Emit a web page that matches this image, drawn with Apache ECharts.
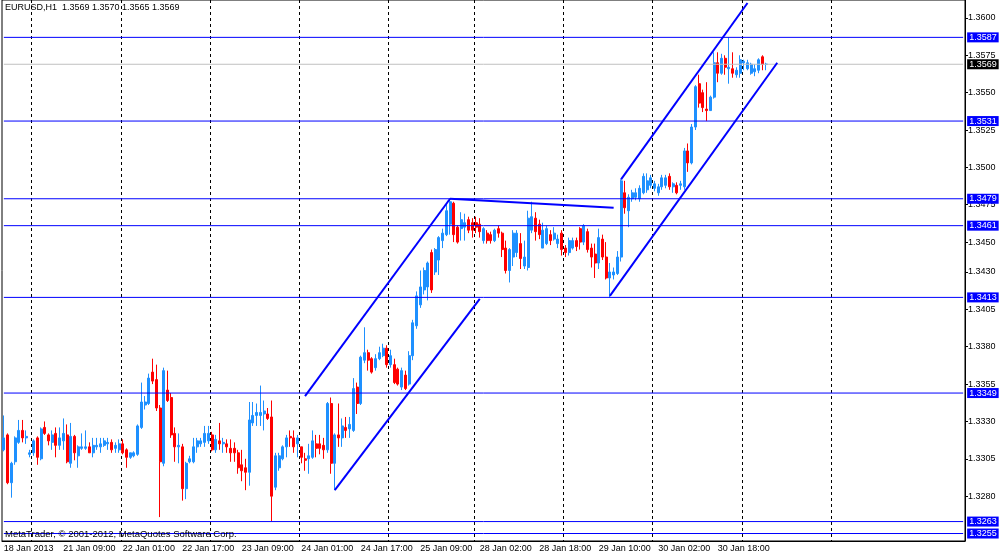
<!DOCTYPE html>
<html lang="en">
<head>
    <meta charset="UTF-8">
    <title>EURUSD,H1</title>
    <script src="https://cdn.jsdelivr.net/npm/echarts@6.0.0/dist/echarts.min.js"></script>
    <style>
        html, body { margin: 0; padding: 0; background: #fff; }
    </style>
</head>
<body>
    <div id="main" style="width: 1000px;height:557px;"></div>
    <script type="text/javascript">
    // hourly bars, [open, close, low, high]
    var ohlc = [
      [1.3311,1.3319,1.3310,1.3334],[1.3321,1.3289,1.3288,1.3322],[1.3289,1.3302,1.3279,1.3303],[1.3303,1.3319,1.3301,1.3320],
      [1.3316,1.3324,1.3315,1.3331],[1.3324,1.3319,1.3316,1.3331],[1.3319,1.3320,1.3315,1.3324],[1.3308,1.3309,1.3306,1.3311],
      [1.3309,1.3317,1.3307,1.3318],[1.3319,1.3306,1.3301,1.3320],[1.3305,1.3325,1.3304,1.3326],[1.3326,1.3322,1.3321,1.3330],
      [1.3321,1.3317,1.3314,1.3322],[1.3316,1.3321,1.3311,1.3324],[1.3322,1.3314,1.3306,1.3326],[1.3314,1.3319,1.3311,1.3326],
      [1.3317,1.3322,1.3311,1.3332],[1.3321,1.3303,1.3302,1.3328],[1.3302,1.3320,1.3299,1.3329],[1.3320,1.3309,1.3304,1.3321],
      [1.3307,1.3313,1.3299,1.3314],[1.3312,1.3313,1.3311,1.3322],[1.3312,1.3313,1.3311,1.3324],[1.3313,1.3309,1.3309,1.3316],
      [1.3309,1.3314,1.3306,1.3319],[1.3313,1.3314,1.3311,1.3319],[1.3313,1.3315,1.3309,1.3319],[1.3314,1.3317,1.3313,1.3319],
      [1.3315,1.3316,1.3311,1.3319],[1.3316,1.3311,1.3309,1.3318],[1.3312,1.3314,1.3309,1.3316],[1.3311,1.3315,1.3309,1.3318],
      [1.3315,1.3309,1.3308,1.3318],[1.3311,1.3306,1.3299,1.3312],[1.3306,1.3309,1.3305,1.3309],[1.3307,1.3309,1.3306,1.3310],
      [1.3308,1.3327,1.3307,1.3328],[1.3326,1.3343,1.3325,1.3356],[1.3341,1.3343,1.3338,1.3347],[1.3342,1.3359,1.3341,1.3362],
      [1.3363,1.3357,1.3355,1.3372],[1.3358,1.3339,1.3337,1.3368],[1.3339,1.3303,1.3266,1.3341],[1.3302,1.3364,1.3300,1.3366],
      [1.3351,1.3344,1.3343,1.3364],[1.3346,1.3321,1.3319,1.3349],[1.3322,1.3313,1.3303,1.3326],[1.3313,1.3314,1.3302,1.3322],
      [1.3313,1.3285,1.3277,1.3315],[1.3285,1.3302,1.3278,1.3303],[1.3303,1.3305,1.3302,1.3307],[1.3303,1.3313,1.3302,1.3319],
      [1.3313,1.3317,1.3309,1.3319],[1.3315,1.3317,1.3313,1.3319],[1.3316,1.3322,1.3313,1.3327],[1.3317,1.3322,1.3315,1.3327],
      [1.3321,1.3311,1.3310,1.3323],[1.3311,1.3318,1.3309,1.3321],[1.3317,1.3315,1.3311,1.3329],[1.3315,1.3316,1.3309,1.3319],
      [1.3315,1.3313,1.3309,1.3318],[1.3312,1.3309,1.3303,1.3318],[1.3312,1.3309,1.3303,1.3316],[1.3309,1.3299,1.3295,1.3311],
      [1.3301,1.3297,1.3290,1.3311],[1.3299,1.3296,1.3284,1.3305],[1.3296,1.3331,1.3287,1.3343],[1.3329,1.3334,1.3327,1.3343],
      [1.3334,1.3336,1.3327,1.3342],[1.3334,1.3336,1.3327,1.3354],[1.3335,1.3337,1.3324,1.3344],[1.3335,1.3332,1.3331,1.3339],
      [1.3333,1.3280,1.3263,1.3344],[1.3286,1.3307,1.3284,1.3309],[1.3299,1.3307,1.3297,1.3309],[1.3305,1.3313,1.3304,1.3314],
      [1.3313,1.3319,1.3306,1.3321],[1.3320,1.3319,1.3313,1.3324],[1.3319,1.3313,1.3309,1.3324],[1.3315,1.3319,1.3306,1.3321],
      [1.3313,1.3306,1.3302,1.3313],[1.3305,1.3304,1.3297,1.3309],[1.3305,1.3307,1.3295,1.3315],[1.3306,1.3317,1.3305,1.3324],
      [1.3315,1.3312,1.3306,1.3321],[1.3315,1.3312,1.3308,1.3321],[1.3314,1.3311,1.3305,1.3319],[1.3311,1.3342,1.3309,1.3343],
      [1.3342,1.3302,1.3295,1.3346],[1.3302,1.3321,1.3284,1.3322],[1.3321,1.3319,1.3313,1.3342],[1.3319,1.3327,1.3313,1.3332],
      [1.3326,1.3324,1.3319,1.3333],[1.3325,1.3328,1.3319,1.3333],[1.3324,1.3352,1.3323,1.3359],[1.3353,1.3342,1.3335,1.3356],
      [1.3342,1.3373,1.3341,1.3374],[1.3371,1.3376,1.3369,1.3393],[1.3376,1.3371,1.3364,1.3378],[1.3372,1.3363,1.3362,1.3373],
      [1.3366,1.3372,1.3364,1.3375],[1.3372,1.3376,1.3371,1.3380],[1.3374,1.3379,1.3373,1.3382],[1.3379,1.3368,1.3366,1.3381],
      [1.3368,1.3374,1.3366,1.3378],[1.3368,1.3356,1.3355,1.3372],[1.3365,1.3355,1.3354,1.3366],[1.3353,1.3364,1.3351,1.3366],
      [1.3361,1.3352,1.3351,1.3364],[1.3355,1.3374,1.3354,1.3377],[1.3374,1.3396,1.3371,1.3398],[1.3394,1.3414,1.3392,1.3417],
      [1.3408,1.3420,1.3406,1.3431],[1.3418,1.3431,1.3415,1.3433],[1.3420,1.3436,1.3411,1.3437],[1.3443,1.3418,1.3416,1.3445],
      [1.3430,1.3445,1.3428,1.3446],[1.3438,1.3453,1.3428,1.3454],[1.3451,1.3456,1.3446,1.3459],[1.3455,1.3471,1.3454,1.3476],
      [1.3462,1.3477,1.3455,1.3479],[1.3476,1.3455,1.3450,1.3477],[1.3460,1.3450,1.3449,1.3461],[1.3459,1.3465,1.3451,1.3470],
      [1.3460,1.3463,1.3451,1.3469],[1.3465,1.3458,1.3456,1.3467],[1.3463,1.3458,1.3453,1.3466],[1.3463,1.3460,1.3456,1.3467],
      [1.3462,1.3457,1.3453,1.3466],[1.3451,1.3459,1.3449,1.3460],[1.3456,1.3451,1.3449,1.3458],[1.3455,1.3451,1.3449,1.3457],
      [1.3451,1.3458,1.3450,1.3459],[1.3459,1.3456,1.3453,1.3461],[1.3456,1.3445,1.3440,1.3457],[1.3446,1.3431,1.3429,1.3451],
      [1.3431,1.3445,1.3423,1.3446],[1.3440,1.3456,1.3434,1.3458],[1.3443,1.3456,1.3440,1.3458],[1.3449,1.3439,1.3432,1.3456],
      [1.3434,1.3440,1.3432,1.3451],[1.3433,1.3466,1.3431,1.3471],[1.3458,1.3467,1.3456,1.3477],[1.3466,1.3457,1.3451,1.3470],
      [1.3462,1.3455,1.3452,1.3465],[1.3446,1.3458,1.3446,1.3463],[1.3449,1.3459,1.3448,1.3461],[1.3455,1.3451,1.3448,1.3458],
      [1.3452,1.3456,1.3451,1.3460],[1.3449,1.3452,1.3446,1.3455],[1.3456,1.3445,1.3441,1.3458],[1.3446,1.3443,1.3440,1.3448],
      [1.3443,1.3451,1.3441,1.3453],[1.3446,1.3451,1.3445,1.3453],[1.3451,1.3447,1.3444,1.3453],[1.3459,1.3450,1.3445,1.3460],
      [1.3450,1.3461,1.3448,1.3462],[1.3457,1.3445,1.3443,1.3459],[1.3446,1.3440,1.3433,1.3449],[1.3442,1.3436,1.3426,1.3449],
      [1.3436,1.3453,1.3432,1.3459],[1.3452,1.3440,1.3438,1.3455],[1.3440,1.3426,1.3425,1.3450],[1.3426,1.3430,1.3413,1.3436],
      [1.3428,1.3430,1.3425,1.3433],[1.3429,1.3440,1.3428,1.3444],[1.3440,1.3491,1.3437,1.3492],[1.3483,1.3473,1.3469,1.3491],
      [1.3471,1.3480,1.3460,1.3482],[1.3479,1.3483,1.3477,1.3485],[1.3480,1.3483,1.3478,1.3486],[1.3479,1.3486,1.3477,1.3488],
      [1.3483,1.3494,1.3482,1.3496],[1.3485,1.3491,1.3483,1.3496],[1.3488,1.3493,1.3486,1.3495],[1.3486,1.3489,1.3484,1.3491],
      [1.3483,1.3487,1.3481,1.3489],[1.3487,1.3493,1.3485,1.3495],[1.3488,1.3493,1.3486,1.3495],[1.3494,1.3487,1.3485,1.3496],
      [1.3487,1.3489,1.3483,1.3490],[1.3488,1.3483,1.3482,1.3490],[1.3488,1.3489,1.3485,1.3491],[1.3487,1.3511,1.3485,1.3513],
      [1.3511,1.3503,1.3497,1.3516],[1.3503,1.3527,1.3502,1.3529],[1.3527,1.3554,1.3525,1.3555],[1.3556,1.3543,1.3540,1.3562],
      [1.3550,1.3540,1.3537,1.3552],[1.3539,1.3538,1.3531,1.3557],[1.3538,1.3547,1.3538,1.3548],[1.3547,1.3570,1.3546,1.3577],
      [1.3570,1.3563,1.3557,1.3577],[1.3563,1.3573,1.3562,1.3576],[1.3573,1.3567,1.3562,1.3575],[1.3566,1.3567,1.3556,1.3587],
      [1.3566,1.3563,1.3560,1.3577],[1.3562,1.3565,1.3560,1.3567],[1.3563,1.3572,1.3560,1.3575],[1.3570,1.3571,1.3565,1.3572],
      [1.3566,1.3570,1.3565,1.3572],[1.3563,1.3569,1.3562,1.3570],[1.3564,1.3566,1.3561,1.3569],[1.3565,1.3572,1.3563,1.3573],
      [1.3574,1.3569,1.3565,1.3575],[1.3569,1.3569,1.3565,1.3570]
    ];

    // time labels, one every 16 bars
    var tickLabels = ['18 Jan 2013', '21 Jan 09:00', '22 Jan 01:00', '22 Jan 17:00', '23 Jan 09:00',
      '24 Jan 01:00', '24 Jan 17:00', '25 Jan 09:00', '28 Jan 02:00', '28 Jan 18:00',
      '29 Jan 10:00', '30 Jan 02:00', '30 Jan 18:00'];
    var priceTicks = [1.3280, 1.3305, 1.3330, 1.3355, 1.3380, 1.3405, 1.3430,
      1.3450, 1.3475, 1.3500, 1.3525, 1.3550, 1.3575, 1.3600];

    // horizontal line objects and the bid line
    var levels = [1.3587, 1.3531, 1.3479, 1.3461, 1.3413, 1.3349, 1.3263, 1.3255];
    var bid = 1.3569;

    // trend lines: [bar, price] -> [bar, price]
    var trendLines = [
      [[81, 1.3347], [120, 1.3479]],
      [[89, 1.3284], [128, 1.3412]],
      [[120, 1.3479], [164, 1.3473]],
      [[166, 1.3492], [200, 1.3610]],
      [[163, 1.3414], [208, 1.3570]]
    ];

    // bars where the dotted grid is drawn
    var gridBars = [8, 32, 56, 80, 104, 127, 151, 175, 199, 223];
    var slots = 259;

    var font = 'Liberation Sans';
    var categories = [];
    for (var i = 0; i < slots; i++) categories.push(i);

    function isTick(i) { return i % 16 === 0 && i / 16 < tickLabels.length; }

    // a flat line across the whole chart, with its price boxed on the right axis
    function levelSeries(p, lineColor, boxColor) {
      return {
        type: 'line', data: [[0, p], [slots - 1, p]], symbol: 'none', silent: true, z: 3,
        lineStyle: { color: lineColor, width: 1 },
        endLabel: {
          show: true, distance: 4, padding: [1, 2, 0, 2],
          fontFamily: font, fontSize: 9, color: '#fff', backgroundColor: boxColor,
          formatter: function () { return p.toFixed(4); }
        }
      };
    }

    var series = [{
      type: 'candlestick',
      data: ohlc,
      barWidth: 2.5,
      z: 2,
      itemStyle: {
        color: '#1e90ff', borderColor: '#1e90ff',
        color0: '#ff0000', borderColor0: '#ff0000',
        borderWidth: 1
      }
    }];

    series.push(levelSeries(bid, '#c0c0c0', '#000'));
    levels.forEach(function (p) { series.push(levelSeries(p, '#0000ff', '#0000ff')); });

    trendLines.forEach(function (seg) {
      series.push({
        type: 'line', data: seg, symbol: 'none', silent: true, z: 4,
        lineStyle: { color: '#0000ff', width: 2 }
      });
    });

    var myChart = echarts.init(document.getElementById('main'));
    myChart.setOption({
      animation: false,
      backgroundColor: '#fff',
      grid: { left: 2, right: 35, top: 0, bottom: 16, show: true, borderColor: '#000', borderWidth: 1 },
      xAxis: {
        type: 'category',
        data: categories,
        boundaryGap: true,
        axisLine: { lineStyle: { color: '#000' } },
        axisTick: { alignWithLabel: true, length: 3, interval: isTick, lineStyle: { color: '#000' } },
        axisLabel: {
          interval: isTick, align: 'left', margin: 3,
          fontFamily: font, fontSize: 9, color: '#000',
          formatter: function (v, i) { return tickLabels[i / 16]; }
        },
        splitLine: {
          show: true,
          interval: function (i) { return gridBars.indexOf(i) >= 0; },
          lineStyle: { color: '#000', type: [3, 3], width: 1 }
        }
      },
      yAxis: {
        type: 'value',
        position: 'right',
        min: 1.3250,
        max: 1.3612,
        axisLine: { show: true, lineStyle: { color: '#000' } },
        axisTick: { show: true, length: 3, customValues: priceTicks, lineStyle: { color: '#000' } },
        axisLabel: {
          customValues: priceTicks, margin: 3,
          fontFamily: font, fontSize: 9, color: '#000',
          formatter: function (v) { return v.toFixed(4); }
        },
        splitLine: { show: false }
      },
      graphic: [
        { type: 'text', left: 5, top: 3, z: 10,
          style: { text: 'EURUSD,H1  1.3569 1.3570 1.3565 1.3569', font: '9px ' + font, fill: '#000' } },
        { type: 'text', left: 5, top: 529, z: 10,
          style: { text: 'MetaTrader, \u00a9 2001-2012, MetaQuotes Software Corp.', font: '9.5px ' + font, fill: '#000' } }
      ],
      series: series
    });
    </script>
</body>
</html>
